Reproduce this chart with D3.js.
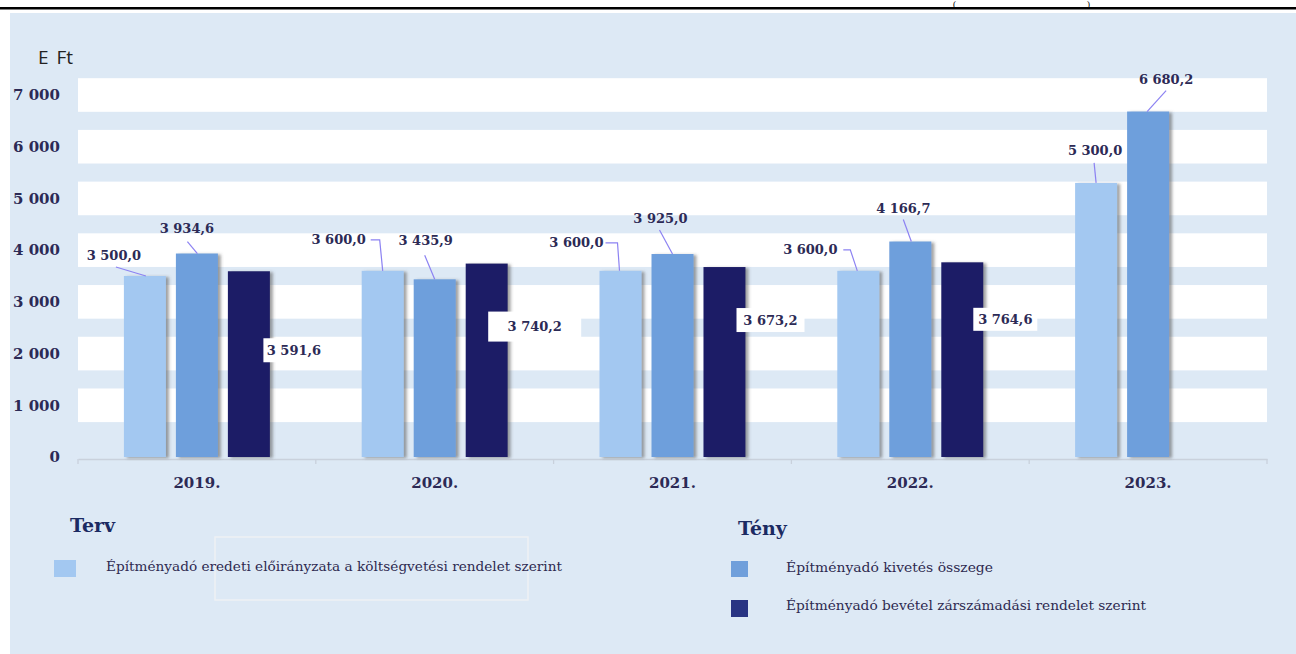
<!DOCTYPE html>
<html><head><meta charset="utf-8">
<script src="https://cdn.jsdelivr.net/npm/d3@7/dist/d3.min.js"></script>
<style>html,body{margin:0;padding:0;background:#fff;}svg{display:block;}</style>
</head><body>
<svg id="c" width="1296" height="654"></svg>
<script>
// ---- data ----
const years = ["2019.", "2020.", "2021.", "2022.", "2023."];
const seriesNames = [
  "Építményadó eredeti előirányzata a költségvetési rendelet szerint",
  "Építményadó kivetés összege",
  "Építményadó bevétel zárszámadási rendelet szerint"
];
const tervValues = [3500.0, 3600.0, 3600.0, 3600.0, 5300.0];
const kivetesValues = [3934.6, 3435.9, 3925.0, 4166.7, 6680.2];
const bevetelValues = [3591.6, 3740.2, 3673.2, 3764.6, null];
const yTicks = [0, 1000, 2000, 3000, 4000, 5000, 6000, 7000];
const unitLabel = "E Ft";
const legendGroups = ["Terv", "Tény"];

// ---- layout / styling (not data) ----
const colors = ["#a3c8f1", "#6e9fdc", "#1c1b66"];
const legendColors = ["#a3c8f1", "#6f9fdb", "#283483"];
const textColor = "#2c2a55";
const leaderColor = "#8c82f2";
// label offsets of text centre relative to (bar centre, bar top)
const labelTextOff = [
  [[-31,-21],[-44,-31],[-44,-28],[-48,-21],[-1,-32]],
  [[-10,-25],[-9,-39],[-12,-36],[-7,-33],[18,-32]]
];
const leaderOff = [
  [ [[-29,-9],[1,0]], [[-12,-31],[-3,-31],[0,0]], [[-15,-28],[-3,-28],[-1,0]], [[-15,-21],[-8,-21],[-1,0]], [[-2,-20],[0,0]] ],
  [ [[-9.5,-12],[0.5,0]], [[-10,-24],[0,0]], [[-13,-24],[0,0]], [[-7,-22],[1,0]], [[18,-21],[-1,0]] ]
];
// boxed labels for third series: [dx from bar centre, dy from bar top, box width, box height]
const boxOff = [[45,79,61,24],[48,63,93,30],[46,53,68,24],[43,57,64,23]];

const svg = d3.select("#c");
const defs = svg.append("defs");
const f = defs.append("filter").attr("id","sh").attr("x","-20%").attr("y","-5%").attr("width","160%").attr("height","110%");
f.append("feDropShadow").attr("dx",3).attr("dy",1).attr("stdDeviation",1.8).attr("flood-color","#555").attr("flood-opacity",0.55);

// top rule and heading bracket glyphs
svg.append("rect").attr("x",0).attr("y",7).attr("width",1296).attr("height",2.5).attr("fill","#000");
svg.append("text").attr("x",953).attr("y",7).attr("font-family","Liberation Serif").attr("font-size",9).text("(");
svg.append("text").attr("x",1087).attr("y",7).attr("font-family","Liberation Serif").attr("font-size",9).text(")");

// panel
svg.append("rect").attr("x",10).attr("y",13).attr("width",1286).attr("height",641).attr("fill","#dde9f5");

const x = d3.scaleBand().domain(years).range([78, 1267]).paddingInner(0).paddingOuter(0);
const y = d3.scaleLinear().domain([0, 7000]).range([457, 95]);
const xs = d3.scaleBand().domain([0,1,2]).range([x.bandwidth()/2 - 73, x.bandwidth()/2 + 73]).paddingInner(10/52).paddingOuter(0);

// white bands centred on ticks
svg.append("g").selectAll("rect").data(yTicks.filter(t => t > 0)).join("rect")
  .attr("x", 78).attr("width", 1267 - 78)
  .attr("y", d => y(d + 325)).attr("height", d => y(d - 325) - y(d + 325))
  .attr("fill", "#fff");

// y tick labels
svg.append("g").selectAll("text").data(yTicks).join("text")
  .attr("x", 60).attr("y", d => y(d)).attr("dy","0.35em").attr("text-anchor","end")
  .attr("font-family","DejaVu Serif").attr("font-weight","bold").attr("font-size",15)
  .attr("fill", textColor).text(d => d3.format(",")(d).replace(/,/g, "\u00a0"));

svg.append("text").attr("x",38).attr("y",64).attr("font-family","Open Sans, Liberation Sans, sans-serif")
  .attr("font-size",19).attr("word-spacing",3).attr("fill","#222").text(unitLabel);

// x axis
const xAxis = svg.append("g").attr("transform", `translate(0,${y(0)+2})`)
  .call(d3.axisBottom(x).tickSize(0).tickFormat(""));
xAxis.select(".domain").attr("stroke","#c9d1dc").attr("stroke-width",1.3);
xAxis.selectAll(".tick").remove();
svg.append("g").selectAll("line").data(years.map(d => x(d)).concat([x.range()[1]])).join("line")
  .attr("x1", d => d).attr("x2", d => d).attr("y1", y(0)+2).attr("y2", y(0)+7)
  .attr("stroke","#c9d1dc").attr("stroke-width",1.3);
svg.append("g").selectAll("text").data(years).join("text")
  .attr("x", d => x(d) + x.bandwidth()/2).attr("y", 488).attr("text-anchor","middle")
  .attr("font-family","DejaVu Serif").attr("font-weight","bold").attr("font-size",15)
  .attr("fill", textColor).text(d => d);

// bars
const allSeries = [tervValues, kivetesValues, bevetelValues];
const bars = [];
allSeries.forEach((vals, si) => vals.forEach((v, i) => { if (v != null) bars.push({si, i, v}); }));
svg.append("g").selectAll("rect").data(bars).join("rect")
  .attr("x", d => x(years[d.i]) + xs(d.si)).attr("width", xs.bandwidth())
  .attr("y", d => y(d.v)).attr("height", d => y(0) - y(d.v))
  .attr("fill", d => colors[d.si]).attr("filter","url(#sh)");

const fmt = v => d3.format(",.1f")(v).replace(/,/g, "\u00a0").replace(".", ",");
const bc = d => x(years[d.i]) + xs(d.si) + xs.bandwidth()/2;

// leader lines + labels for series 0 & 1
const top2 = bars.filter(d => d.si < 2);
svg.append("g").selectAll("path").data(top2).join("path")
  .attr("d", d => d3.line()(leaderOff[d.si][d.i].map(p => [bc(d) + p[0], y(d.v) + p[1]])))
  .attr("fill","none").attr("stroke", leaderColor).attr("stroke-width",1.2);
svg.append("g").selectAll("text").data(top2).join("text")
  .attr("x", d => bc(d) + labelTextOff[d.si][d.i][0]).attr("y", d => y(d.v) + labelTextOff[d.si][d.i][1])
  .attr("dy","0.35em").attr("text-anchor","middle")
  .attr("font-family","DejaVu Serif").attr("font-weight","bold").attr("font-size",13)
  .attr("fill", textColor).text(d => fmt(d.v));

// boxed labels for series 2
const third = bars.filter(d => d.si === 2);
const bg = svg.append("g").selectAll("g").data(third).join("g")
  .attr("transform", d => `translate(${bc(d) + boxOff[d.i][0]},${y(d.v) + boxOff[d.i][1]})`);
bg.append("rect").attr("x", d => -boxOff[d.i][2]/2).attr("y", d => -boxOff[d.i][3]/2)
  .attr("width", d => boxOff[d.i][2]).attr("height", d => boxOff[d.i][3]).attr("fill","#fff");
bg.append("text").attr("dy","0.35em").attr("text-anchor","middle")
  .attr("font-family","DejaVu Serif").attr("font-weight","bold").attr("font-size",13)
  .attr("fill", textColor).text(d => fmt(d.v));

// legend
svg.append("rect").attr("x",215).attr("y",537).attr("width",313).attr("height",63)
  .attr("fill","none").attr("stroke","#eef1f4").attr("stroke-width",1.5);
svg.append("text").attr("x",70).attr("y",532).attr("font-family","DejaVu Serif").attr("font-weight","bold")
  .attr("font-size",19).attr("fill","#1b2a62").text(legendGroups[0]);
svg.append("text").attr("x",738).attr("y",535).attr("font-family","DejaVu Serif").attr("font-weight","bold")
  .attr("font-size",19).attr("fill","#1b2a62").text(legendGroups[1]);
const legItems = [
  {si:0, sx:54, sy:560, sw:22, sh:17, tx:106, ty:571, tl:456},
  {si:1, sx:731, sy:561, sw:17, sh:16, tx:786, ty:572, tl:207},
  {si:2, sx:731, sy:600, sw:17, sh:17, tx:786, ty:610, tl:360}
];
const lg = svg.append("g").selectAll("g").data(legItems).join("g");
lg.append("rect").attr("x", d => d.sx).attr("y", d => d.sy).attr("width", d => d.sw).attr("height", d => d.sh)
  .attr("fill", d => legendColors[d.si]);
lg.append("text").attr("x", d => d.tx).attr("y", d => d.ty)
  .attr("font-family","DejaVu Serif").attr("font-size",12).attr("fill","#2e2a50")
  .attr("textLength", d => d.tl).attr("lengthAdjust","spacingAndGlyphs")
  .text(d => seriesNames[d.si]);
</script>
</body></html>
